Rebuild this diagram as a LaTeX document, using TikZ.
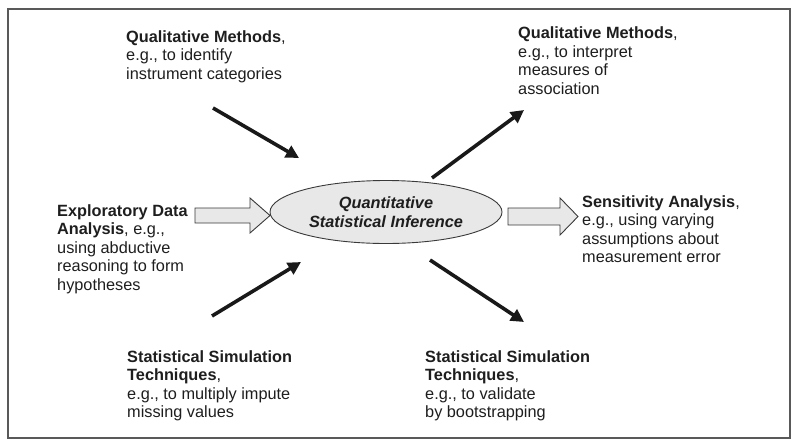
\documentclass[tikz,border=0pt]{standalone}
\usepackage{fontspec}
\setmainfont{Liberation Sans}
\usetikzlibrary{arrows.meta,shapes.geometric}
\definecolor{txt}{HTML}{1E1E1E}
\definecolor{boxfill}{HTML}{E8E8E8}
\definecolor{boxline}{HTML}{3A3A3A}
\begin{document}
\begin{tikzpicture}[x=1pt,y=-1pt,
  lbl/.style={anchor=north west,inner sep=0pt,align=left,text=txt,
    font=\fontsize{16.3}{18.5}\selectfont},
  center/.style={ellipse,draw=boxline,fill=boxfill,line width=0.9pt,
    minimum width=232pt,minimum height=63pt,inner sep=0pt,align=center,text=txt,
    font=\fontsize{16.3}{18.5}\selectfont\bfseries\itshape},
  thickarrow/.style={line width=3.6pt,color=black!90,
    -{Triangle[length=13pt,width=13pt]}, shorten >=0pt},
  blockarrow/.style={draw=boxline,fill=boxfill,line width=0.9pt,line join=miter},
  frame/.style={draw=black!65,line width=1.3pt}
]
\useasboundingbox (0,0) rectangle (800,445);
\draw[frame] (8,9) rectangle (790,438);

\node[center] (qsi) at (386,212) {Quantitative\\Statistical Inference};

\node[lbl] (tl) at (126,30) {\textbf{Qualitative Methods},\\e.g., to identify\\instrument categories};
\node[lbl] (tr) at (518,26.5) {\textbf{Qualitative Methods},\\e.g., to interpret\\measures of\\association};
\node[lbl] (lt) at (57,204) {\textbf{Exploratory Data}\\\textbf{Analysis}, e.g.,\\using abductive\\reasoning to form\\hypotheses};
\node[lbl] (rt) at (582,195) {\textbf{Sensitivity Analysis},\\e.g., using varying\\assumptions about\\measurement error};
\node[lbl] (bl) at (127,350) {\textbf{Statistical Simulation}\\\textbf{Techniques},\\e.g., to multiply impute\\missing values};
\node[lbl] (br) at (425,350) {\textbf{Statistical Simulation}\\\textbf{Techniques},\\e.g., to validate\\by bootstrapping};

% block arrows
\draw[blockarrow] (195,208) -- (250,208) -- (250,198) -- (270,215.5) -- (250,233) -- (250,223) -- (195,223) -- cycle;
\draw[blockarrow] (508,208) -- (560,208) -- (560,198) -- (578,216.5) -- (560,235) -- (560,225) -- (508,225) -- cycle;

% diagonal arrows
\coordinate (tlA) at (213,108);
\coordinate (tlB) at (299,158);
\coordinate (trA) at (432,178);
\coordinate (trB) at (524,110);
\coordinate (blA) at (212,316);
\coordinate (blB) at (301,262);
\coordinate (brA) at (430,260);
\coordinate (brB) at (524,322);
\draw[thickarrow] (tlA) -- (tlB);
\draw[thickarrow] (trA) -- (trB);
\draw[thickarrow] (blA) -- (blB);
\draw[thickarrow] (brA) -- (brB);
\end{tikzpicture}
\end{document}
